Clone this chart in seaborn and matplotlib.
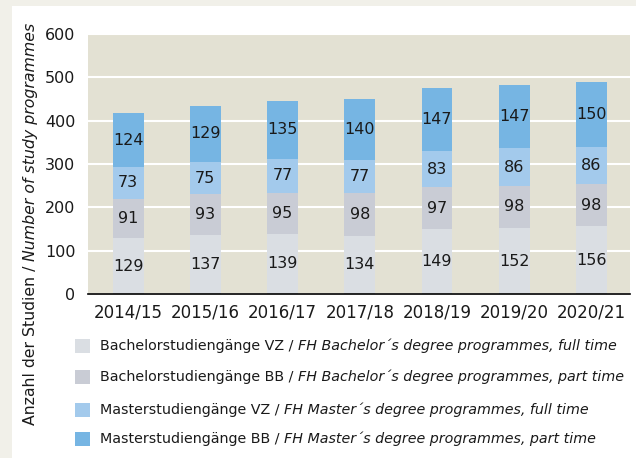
import numpy as np
import pandas as pd
import matplotlib
matplotlib.use("Agg")
import matplotlib.pyplot as plt
import seaborn as sns
from matplotlib.patches import Rectangle

# data
years = ["2014/15", "2015/16", "2016/17", "2017/18", "2018/19", "2019/20", "2020/21"]
ba_vz = [129, 137, 139, 134, 149, 152, 156]
ba_bb = [91, 93, 95, 98, 97, 98, 98]
ma_vz = [73, 75, 77, 77, 83, 86, 86]
ma_bb = [124, 129, 135, 140, 147, 147, 150]

series_de = ["Bachelorstudiengänge VZ / ", "Bachelorstudiengänge BB / ",
             "Masterstudiengänge VZ / ", "Masterstudiengänge BB / "]
series_en = ["FH Bachelor´s degree programmes, full time",
             "FH Bachelor´s degree programmes, part time",
             "FH Master´s degree programmes, full time",
             "FH Master´s degree programmes, part time"]
colors = ["#dadee3", "#c9ccd5", "#a3caec", "#76b5e3"]

sns.set_theme(style="white")
plt.rcParams["font.family"] = ["DejaVu Sans"]

df = pd.DataFrame({"year": years, "ba_vz": ba_vz, "ba_bb": ba_bb,
                   "ma_vz": ma_vz, "ma_bb": ma_bb})
cols = ["ba_vz", "ba_bb", "ma_vz", "ma_bb"]
cum = df[cols].cumsum(axis=1)

fig = plt.figure(figsize=(6.36, 4.58), dpi=100, facecolor="#f1f0e9")
fig.patches.append(Rectangle((12 / 636, 0), 1, 1 - 6 / 458, transform=fig.transFigure,
                             facecolor="white", edgecolor="none", zorder=-10))

ax = fig.add_axes([88 / 636, 1 - 294 / 458, 542 / 636, 260 / 458])
ax.set_facecolor("#e3e1d3")

# stacked bars: draw cumulative totals from top to bottom
for c, col in reversed(list(zip(colors, cols))):
    sns.barplot(x=df["year"], y=cum[col], color=c, width=0.4, saturation=1,
                linewidth=0, ax=ax, zorder=3)

# segment labels
for i in range(len(years)):
    base = 0
    for col in cols:
        v = df[col][i]
        ax.text(i, base + v / 2, str(v), ha="center", va="center",
                fontsize=11.5, color="#1a1a1a", zorder=4)
        base += v

ax.set_ylim(0, 600)
ax.set_xlim(-0.52, 6.5)
ax.set_yticks(range(0, 601, 100))
ax.grid(axis="y", color="white", linewidth=1.5, zorder=1)
ax.set_axisbelow(True)
for s in ["top", "right", "left"]:
    ax.spines[s].set_visible(False)
ax.spines["bottom"].set_color("black")
ax.spines["bottom"].set_linewidth(1.2)
ax.spines["bottom"].set_zorder(5)
ax.tick_params(axis="y", length=0, pad=9, labelsize=11.5, labelcolor="#1a1a1a")
ax.tick_params(axis="x", length=0, pad=7, labelsize=12, labelcolor="#1a1a1a")
ax.set_xlabel("")
ax.set_ylabel("")

# y label, regular + italic parts
fig.canvas.draw()
r = fig.canvas.get_renderer()
y0 = 425
t1 = fig.text(30 / 636, 1 - y0 / 458, "Anzahl der Studien / ", rotation=90,
              ha="left", va="center", rotation_mode="anchor", fontsize=11.3,
              color="#1a1a1a")
bb = t1.get_window_extent(r)
fig.text(30 / 636, (bb.y1) / fig.bbox.height, "Number of study programmes",
         rotation=90, ha="left", va="center", rotation_mode="anchor",
         fontsize=11.3, style="italic", color="#1a1a1a")

# legend
rows = [346, 377, 410, 439]
for yy, c, de, en in zip(rows, colors, series_de, series_en):
    fig.patches.append(Rectangle((75 / 636, 1 - (yy + 7) / 458), 15 / 636, 14 / 458,
                                 transform=fig.transFigure, facecolor=c,
                                 edgecolor="none"))
    ta = fig.text(100 / 636, 1 - yy / 458, de, ha="left", va="center",
                  fontsize=10.3, color="#1a1a1a")
    b = ta.get_window_extent(r)
    fig.text(b.x1 / fig.bbox.width, 1 - yy / 458, en, ha="left", va="center",
             fontsize=10.3, style="italic", color="#1a1a1a")

fig.savefig("out.png", dpi=100, facecolor=fig.get_facecolor())
